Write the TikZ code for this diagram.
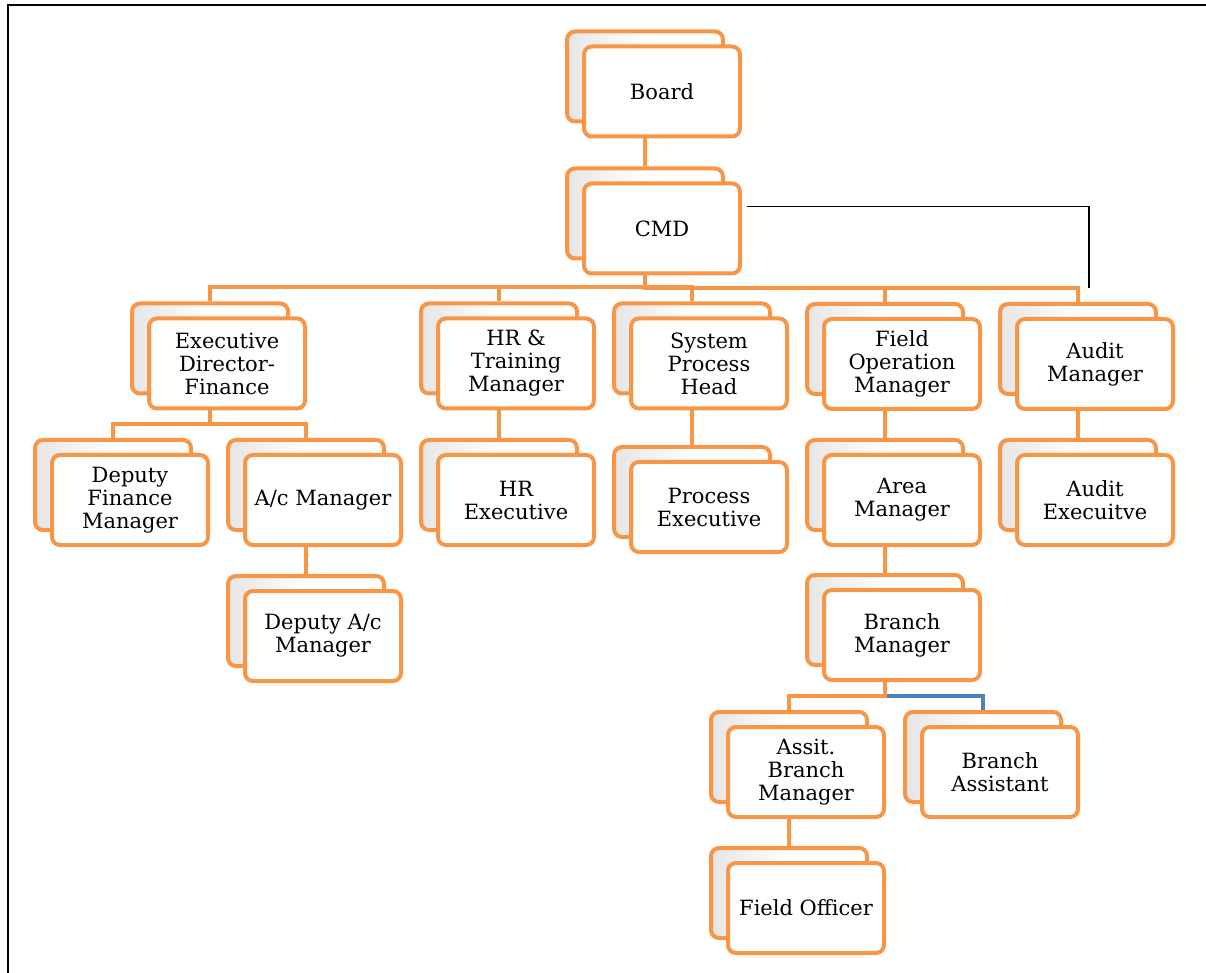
\documentclass[tikz,border=0pt]{standalone}
\usepackage{fontspec}
\setmainfont{DejaVu Serif}
\usetikzlibrary{calc,shadows}
\definecolor{boxorange}{RGB}{247,150,70}
\definecolor{linkblue}{RGB}{79,129,189}

\tikzset{
  post/.style={rectangle, rounded corners=4pt, draw=boxorange, line width=2pt,
    fill=white, text=black, minimum width=78pt, minimum height=45pt,
    align=center, font=\fontsize{10.5}{11.5}\selectfont,
    copy shadow={shadow xshift=-8.5pt, shadow yshift=7.5pt, draw=boxorange,
      left color=black!10, right color=white, middle color=white}},
  link/.style={draw=boxorange, line width=2pt,
    to path={($(\tikztostart.south)+(-17,0)$) |- ($(\tikztotarget.north)+(-17,-29)$)
      -- ($(\tikztotarget.north)+(-17,-15)$)}}
}

\begin{document}
\begin{tikzpicture}[x=0.5pt, y=-0.5pt]
      \useasboundingbox (0,0) rectangle (1206,973);
      \draw[line width=1.1pt] (8,973) -- (8,5) -- (1206,5);

      \node[post, name=board] at (662,91.5) {Board};
      \node[post, name=cmd] at (662,228.5) {CMD};

      \node[post, name=edf] at (227,363.5) {Executive\\Director-\\Finance};
      \node[post, name=hrtm] at (516,363.5) {HR \&\\Training\\Manager};
      \node[post, name=sph] at (709,363.5) {System\\Process\\Head};
      \node[post, name=fom] at (902,364) {Field\\Operation\\Manager};
      \node[post, name=audm] at (1095,364) {Audit\\Manager};

      \node[post, name=dfm] at (130,500) {Deputy\\Finance\\Manager};
      \node[post, name=acm] at (323,500) {A/c Manager};
      \node[post, name=dacm] at (323,636) {Deputy A/c\\Manager};
      \node[post, name=hre] at (516,500) {HR\\Executive};
      \node[post, name=proce] at (709,507) {Process\\Executive};
      \node[post, name=aream] at (902,500) {Area\\Manager};
      \node[post, name=audite] at (1095,500) {Audit\\Execuitve};

      \node[post, name=brm] at (902,635) {Branch\\Manager};
      \node[post, name=abm] at (806,772) {Assit.\\Branch\\Manager};
      \node[post, name=bra] at (1000,772) {Branch\\Assistant};
      \node[post, name=fo] at (806,908) {Field Officer};

      \path[link]
         (board) edge (cmd)
         (cmd) edge (edf)
         (cmd) edge (hrtm)
         (cmd) edge (sph)
         (cmd) edge (fom)
         (cmd) edge (audm)
         (edf) edge (dfm)
         (edf) edge (acm)
         (acm) edge (dacm)
         (hrtm) edge (hre)
         (sph) edge (proce)
         (fom) edge (aream)
         (audm) edge (audite)
         (aream) edge (brm)
         (brm) edge[draw=linkblue] (bra)
         (brm) edge (abm)
         (abm) edge (fo);

      % line from CMD over to the audit branch
      \draw[line width=0.8pt] ($(cmd.east)+(5,-22)$) -| ($(audm.north)+(-6,-29)$);
   \end{tikzpicture}
\end{document}
